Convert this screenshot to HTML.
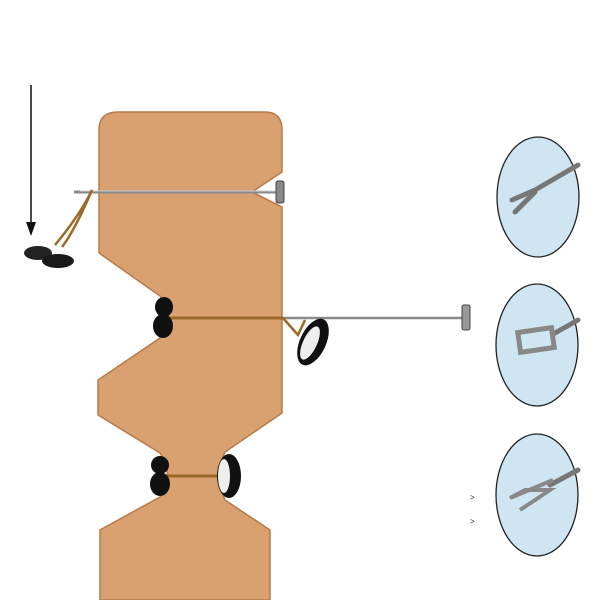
<!DOCTYPE html>
<html><head><style>body{margin:0;background:#fff}svg{display:block}</style></head>
<body>
<svg width="600" height="600" viewBox="0 0 600 600" xmlns="http://www.w3.org/2000/svg">
<!-- tissue -->
<path d="M99,130 Q99,112 118,112 L265,112 Q282,112 282,130 L282,172 L252,192 L282,207 L282,413 L225,452 Q214,475 225,500 L270,530 L270,600 L100,600 L100,530 L160,497 Q175,475 160,453 L98,415 L98,380 L160,338 Q178,318 160,296 L99,253 Z" fill="#d9a070" stroke="#b87a4a" stroke-width="1.5"/>
<!-- arrow -->
<line x1="31" y1="85" x2="31" y2="222" stroke="#111" stroke-width="1.5"/>
<polygon points="26,222 36,222 31,236" fill="#111"/>
<!-- top needle -->
<line x1="74" y1="192" x2="280" y2="192" stroke="#8a8a8a" stroke-width="3"/>
<line x1="80" y1="191" x2="280" y2="191" stroke="#ccc" stroke-width="1"/>
<rect x="276" y="181" width="8" height="22" rx="2" fill="#888" stroke="#444" stroke-width="1"/>
<path d="M92,190 Q80,215 55,245 M92,190 Q75,230 62,247" stroke="#9a6a2a" stroke-width="2.5" fill="none"/>
<ellipse cx="38" cy="253" rx="14" ry="7" fill="#222"/>
<ellipse cx="58" cy="261" rx="16" ry="7" fill="#1a1a1a"/>
<!-- middle -->
<line x1="170" y1="318" x2="465" y2="318" stroke="#8a8a8a" stroke-width="2.5"/>
<line x1="170" y1="318" x2="283" y2="318" stroke="#9a6a2a" stroke-width="3"/>
<path d="M283,318 L298,335 L305,320" stroke="#9a6a2a" stroke-width="2.5" fill="none"/>
<rect x="462" y="305" width="8" height="25" rx="2" fill="#999" stroke="#444" stroke-width="1"/>
<ellipse cx="313" cy="342" rx="13" ry="25" transform="rotate(25 313 342)" fill="#111"/>
<ellipse cx="310" cy="343" rx="7" ry="18" transform="rotate(25 310 343)" fill="#eee"/>
<ellipse cx="164" cy="307" rx="9" ry="10" fill="#111"/>
<ellipse cx="163" cy="326" rx="10" ry="12" fill="#111"/>
<!-- bottom -->
<line x1="160" y1="476" x2="222" y2="476" stroke="#9a6a2a" stroke-width="3"/>
<ellipse cx="160" cy="465" rx="9" ry="9" fill="#111"/>
<ellipse cx="160" cy="484" rx="10" ry="12" fill="#111"/>
<ellipse cx="229" cy="476" rx="12" ry="22" fill="#111"/>
<ellipse cx="224" cy="476" rx="6" ry="17" fill="#eee"/>
<!-- ovals -->
<g stroke="#222" stroke-width="1.3" fill="#cfe6f2">
<ellipse cx="538" cy="197" rx="41" ry="60"/>
<ellipse cx="537" cy="345" rx="41" ry="61"/>
<ellipse cx="537" cy="495" rx="41" ry="61"/>
</g>
<g stroke="#777" stroke-width="5" fill="none" stroke-linecap="round">
<path d="M578,165 L535,190 L512,200"/>
<path d="M535,192 L515,212"/>
<path d="M578,320 L555,333"/>
<path d="M578,470 L550,485"/>
</g>
<rect x="519" y="330" width="34" height="20" transform="rotate(-8 536 340)" fill="none" stroke="#888" stroke-width="5"/>
<path d="M553,480 L510,498 L525,490 L550,490 L520,510" stroke="#888" stroke-width="4" fill="none"/>
<text x="470" y="500" font-family="Liberation Sans, sans-serif" font-size="8" fill="#333">&gt;</text>
<text x="470" y="524" font-family="Liberation Sans, sans-serif" font-size="8" fill="#333">&gt;</text>
</svg>
</body></html>
